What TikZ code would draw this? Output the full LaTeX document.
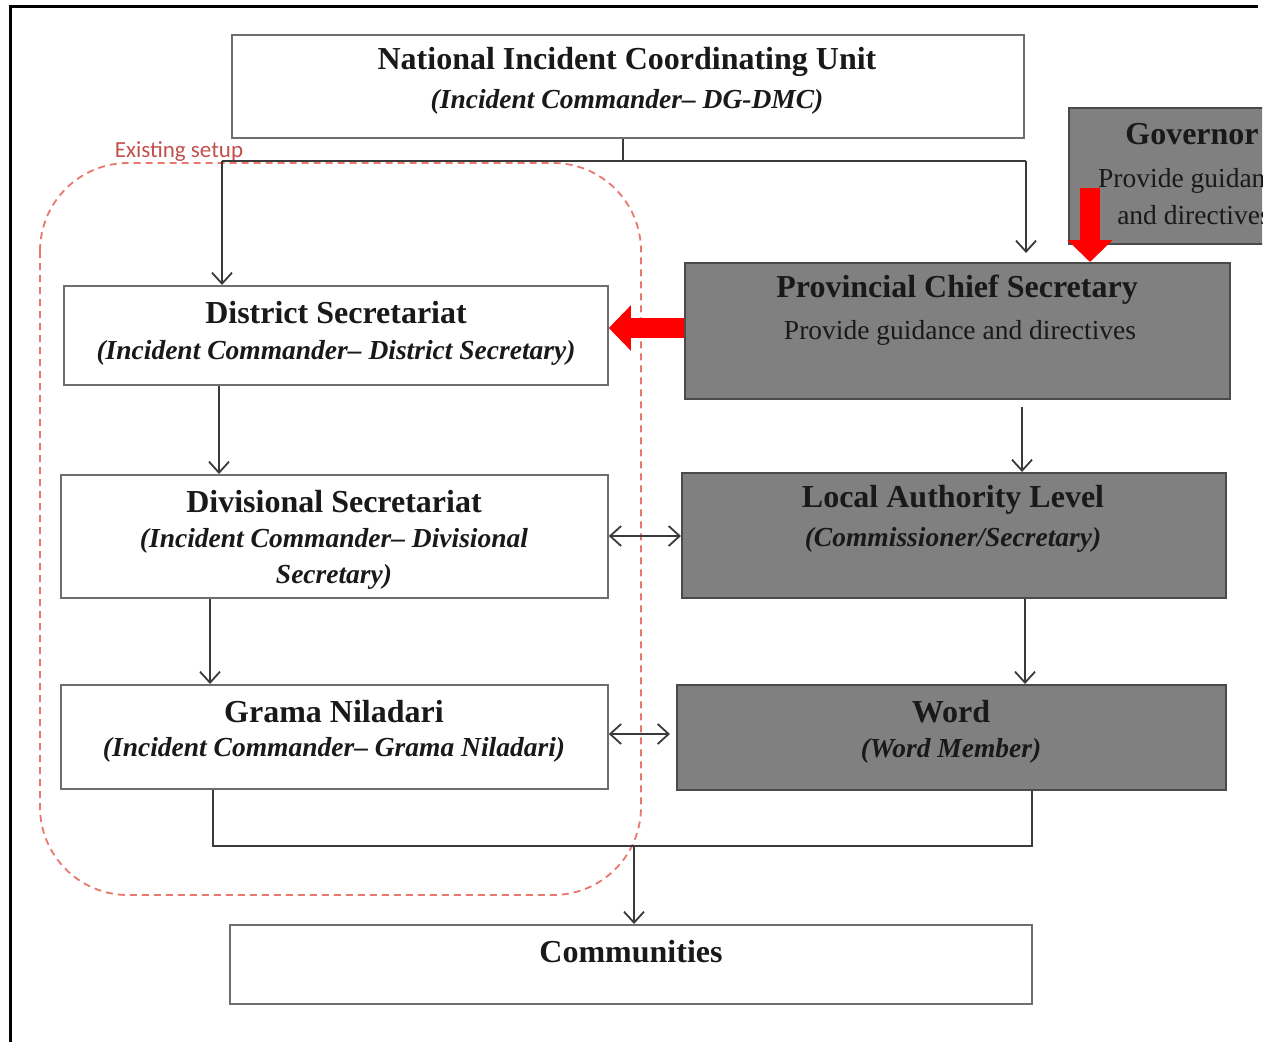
\documentclass[tikz,border=0pt]{standalone}
\usepackage{fontspec}
\setmainfont{Liberation Serif}
\newfontfamily\labelsans{Carlito}
\usetikzlibrary{arrows.meta}
\definecolor{boxgray}{HTML}{808080}
\definecolor{edgegray}{HTML}{6E6E6E}
\definecolor{darkedge}{HTML}{4A4A4A}
\definecolor{linegray}{HTML}{3A3A3A}
\definecolor{setupred}{HTML}{E8776E}
\definecolor{setuptext}{HTML}{C0504D}
\definecolor{arrowred}{HTML}{FF0000}
\tikzset{
  wbox/.style={draw=edgegray, line width=1.8pt, fill=white, inner sep=0pt, anchor=north west},
  gbox/.style={draw=darkedge, line width=1.8pt, fill=boxgray, inner sep=0pt, anchor=north west},
  ttl/.style={font=\fontsize{32}{38}\selectfont\bfseries, inner sep=0pt, text=black!90},
  sub/.style={font=\fontsize{27.5}{36}\selectfont\bfseries\itshape, inner sep=0pt, align=center, text=black!90},
  reg/.style={font=\fontsize{27.5}{37}\selectfont, inner sep=0pt, align=center, text=black!90},
  conn/.style={draw=linegray, line width=1.8pt},
  arr/.style={conn, -{Straight Barb[length=11pt,width=20pt,line width=1.8pt]}},
  darr/.style={conn, {Straight Barb[length=11pt,width=20pt,line width=1.8pt]}-{Straight Barb[length=11pt,width=20pt,line width=1.8pt]}},
  bigred/.style={draw=arrowred, line width=20pt, -{Triangle[length=22pt,width=44pt]}, arrowred}
}
\begin{document}
\begin{tikzpicture}[x=1pt,y=-1pt]
\useasboundingbox (0,0) rectangle (1265,1042);
\clip (0,0) rectangle (1262,1042);

% frame
\draw[line width=3pt, black] (10,1042) -- (10,6) -- (1258,6);

% existing setup region
\draw[setupred, line width=1.8pt, dash pattern=on 7pt off 5pt, rounded corners=88pt] (40,163) rectangle (641,895);
\node[font=\labelsans\fontsize{23}{26}\selectfont, text=setuptext, inner sep=0pt] (setup) at (179,152) {Existing setup};

% boxes
\node[wbox, minimum width=792pt, minimum height=103pt] (nicu) at (231,34) {};
\node[gbox, minimum width=260pt, minimum height=136pt] (gov) at (1068,107) {};
\node[gbox, minimum width=545pt, minimum height=136pt] (prov) at (684,262) {};
\node[wbox, minimum width=544pt, minimum height=99pt] (dist) at (63,285) {};
\node[wbox, minimum width=547pt, minimum height=123pt] (div) at (60,474) {};
\node[gbox, minimum width=544pt, minimum height=125pt] (loc) at (681,472) {};
\node[wbox, minimum width=547pt, minimum height=104pt] (gram) at (60,684) {};
\node[gbox, minimum width=549pt, minimum height=105pt] (word) at (676,684) {};
\node[wbox, minimum width=802pt, minimum height=79pt] (comm) at (229,924) {};

% texts
\node[ttl] (nicuT) at (627,62) {National Incident Coordinating Unit};
\node[sub] (nicuS) at (627,102) {(Incident Commander– DG-DMC)};
\node[ttl] (govT) at (1192,134) {Governor};
\node[reg] (govS) at (1194,197) {Provide guidance\\and directives};
\node[ttl] (provT) at (957,290) {Provincial Chief Secretary};
\node[reg] (provS) at (960,333) {Provide guidance and directives};
\node[ttl] (distT) at (336,313) {District Secretariat};
\node[sub] (distS) at (336,353) {(Incident Commander– District Secretary)};
\node[ttl] (divT) at (334,502) {Divisional Secretariat};
\node[sub] (divS) at (334,559) {(Incident Commander– Divisional\\Secretary)};
\node[ttl] (locT) at (953,500) {Local Authority Level};
\node[sub] (locS) at (953,540) {(Commissioner/Secretary)};
\node[ttl] (gramT) at (334,712) {Grama Niladari};
\node[sub] (gramS) at (334,750) {(Incident Commander– Grama Niladari)};
\node[ttl] (wordT) at (951,712) {Word};
\node[sub] (wordS) at (951,751) {(Word Member)};
\node[ttl] (commT) at (631,952) {Communities};

% junction coordinates
\coordinate (jt) at (623,161);
\coordinate (jl) at (222,161);
\coordinate (jr) at (1026,161);
\coordinate (bl) at (213,846);
\coordinate (br) at (1032,846);
\coordinate (bm) at (634,846);
\coordinate (govred) at (1090,188);
\coordinate (provred) at (684,328);

% connectors
\draw[conn] (nicu.south -| jt) -- (jt);
\draw[conn] (jl) -- (jr);
\draw[arr] (jl) -- (jl |- dist.north);
\draw[arr, shorten >=9pt] (jr) -- (jr |- prov.north);
\draw[arr] (dist.south -| 219,0) -- (div.north -| 219,0);
\draw[arr] (div.south -| 210,0) -- (gram.north -| 210,0);
\draw[arr, shorten <=7pt] (prov.south -| 1022,0) -- (loc.north -| 1022,0);
\draw[arr] (loc.south -| 1025,0) -- (word.north -| 1025,0);
\draw[darr] (div.east |- 0,536) -- (loc.west |- 0,536);
\draw[darr, shorten >=6pt] (gram.east |- 0,734) -- (word.west |- 0,734);
\draw[conn] (gram.south -| bl) -- (bl) -- (br) -- (word.south -| br);
\draw[arr] (bm) -- (bm |- comm.north);

% red arrows
\draw[bigred] (govred) -- (govred |- prov.north);
\draw[bigred] (provred) -- (dist.east |- provred);
\end{tikzpicture}
\end{document}
